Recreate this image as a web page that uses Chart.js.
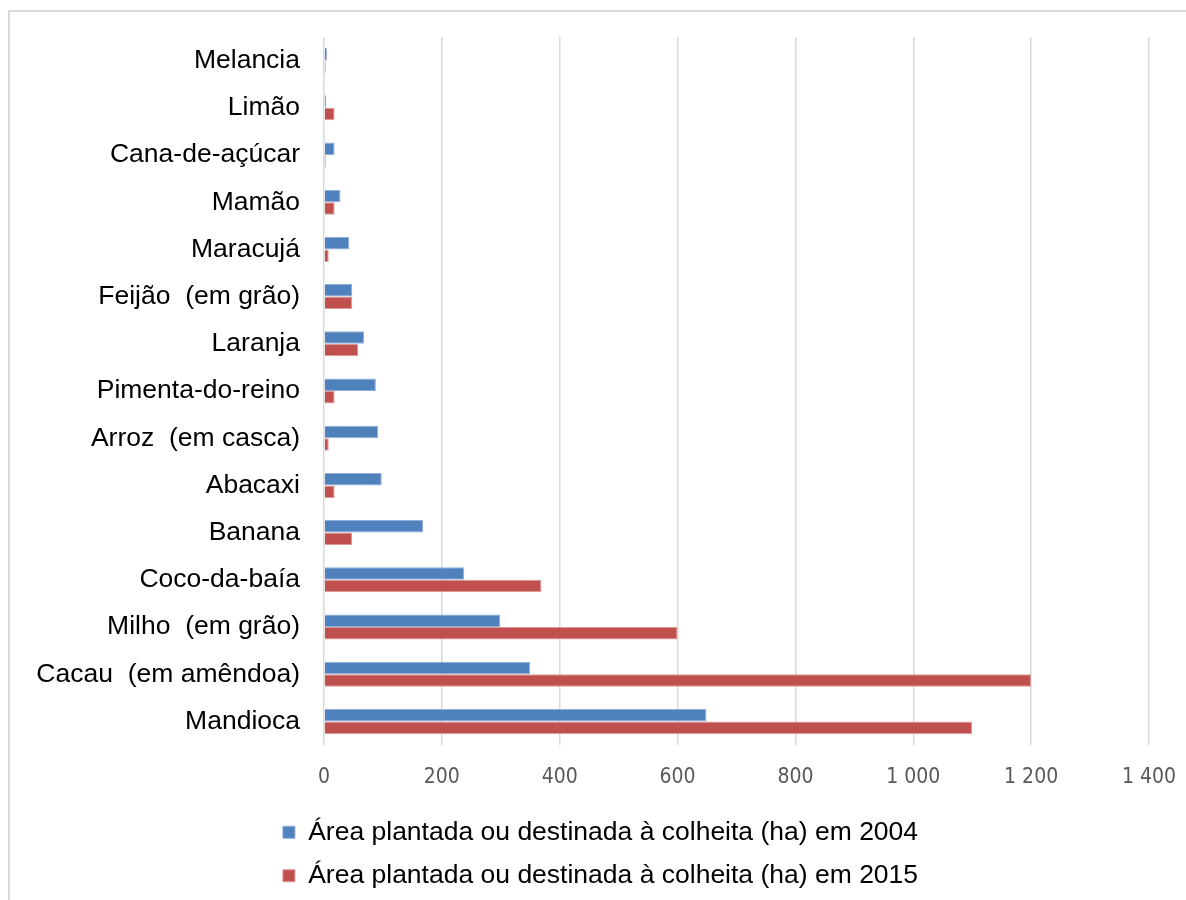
<!DOCTYPE html>
<html>
<head>
<meta charset="utf-8">
<script src="https://cdn.jsdelivr.net/npm/chart.js@4/dist/chart.umd.min.js"></script>
<style>
  html, body { margin: 0; padding: 0; background: #fff; overflow: hidden; }
  #wrap { position: relative; width: 1186px; height: 900px; overflow: hidden; }
  #frame { position: absolute; left: 8px; top: 10px; width: 1300px; height: 1000px; border: 2px solid #d9d9d9; box-sizing: border-box; pointer-events: none; }
  canvas { position: absolute; left: 0; top: 0; }
</style>
</head>
<body>
<div id="wrap">
  <div id="frame"></div>
  <canvas id="c" width="1186" height="900"></canvas>
</div>
<script>
const categories = ["Melancia", "Limão", "Cana-de-açúcar", "Mamão", "Maracujá", "Feijão  (em grão)", "Laranja", "Pimenta-do-reino", "Arroz  (em casca)", "Abacaxi", "Banana", "Coco-da-baía", "Milho  (em grão)", "Cacau  (em amêndoa)", "Mandioca"];
const series2004Label = "Área plantada ou destinada à colheita (ha) em 2004";
const series2015Label = "Área plantada ou destinada à colheita (ha) em 2015";
const values2004 = [5, 4, 18, 28, 43, 48, 68, 88, 92, 98, 168, 238, 299, 350, 649];
const values2015 = [3, 18, 3, 18, 8, 48, 58, 18, 8, 18, 48, 369, 600, 1200, 1100];
const xTicks = [0, 200, 400, 600, 800, 1000, 1200, 1400];

const fmt = v => String(v).replace(/\B(?=(\d{3})+(?!\d))/g, " ");
const LEGEND_SHIFT = 26;

const legendShift = {
  id: "legendShift",
  afterLayout(chart) {
    if (chart.legend) { chart.legend.left += LEGEND_SHIFT; chart.legend.right += LEGEND_SHIFT; }
  }
};

new Chart(document.getElementById("c"), {
  type: "bar",
  plugins: [legendShift],
  data: {
    labels: categories,
    datasets: [
      { label: series2004Label, data: values2004, backgroundColor: "#4F81BD", borderColor: "#8FB0DA", borderWidth: 1 },
      { label: series2015Label, data: values2015, backgroundColor: "#C0504D", borderColor: "#DD9A98", borderWidth: 1 }
    ]
  },
  options: {
    indexAxis: "y",
    responsive: false,
    animation: false,
    layout: { padding: { left: 0, right: 37, top: 37, bottom: 1 } },
    datasets: { bar: { categoryPercentage: 0.53, barPercentage: 1.0 } },
    scales: {
      x: {
        min: 0, max: 1400,
        afterBuildTicks: s => { s.ticks = xTicks.map(v => ({ value: v })); },
        afterFit: s => { s.height = 57; s.paddingLeft = 0; s.paddingRight = 0; },
        grid: { color: "#d9d9d9", lineWidth: 1.5, drawTicks: false },
        border: { display: false },
        ticks: {
          color: "#595959",
          font: { family: "'DejaVu Sans Condensed', 'Liberation Sans Narrow', 'Liberation Sans', sans-serif", size: 21 },
          padding: 20,
          maxRotation: 0,
          callback: v => fmt(v)
        }
      },
      y: {
        afterFit: s => { s.width = 324; s.paddingTop = 0; s.paddingBottom = 0; },
        grid: { display: false, drawTicks: false },
        border: { display: false },
        ticks: {
          color: "#000",
          font: { family: "'Liberation Sans', Arial, sans-serif", size: 26.5 },
          padding: 24
        }
      }
    },
    plugins: {
      tooltip: { enabled: false },
      legend: {
        position: "bottom",
        labels: {
          color: "#000",
          font: { family: "'Liberation Sans', Arial, sans-serif", size: 26.5 },
          boxWidth: 12, boxHeight: 12,
          padding: 17
        }
      }
    }
  }
});
</script>
</body>
</html>
